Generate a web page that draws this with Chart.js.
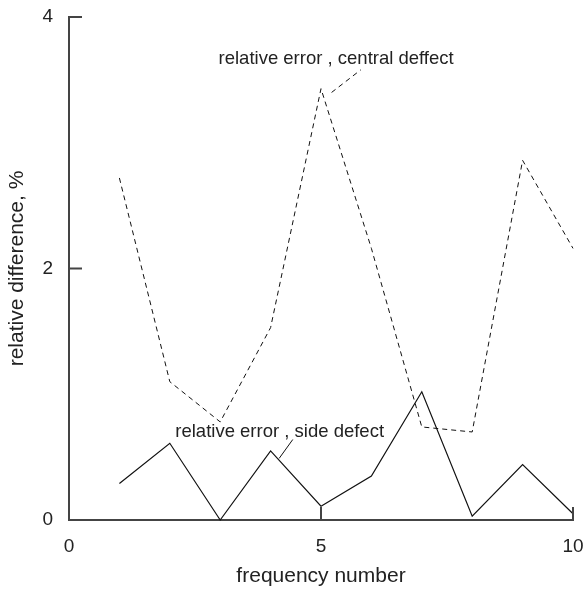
<!DOCTYPE html>
<html>
<head>
<meta charset="utf-8">
<script src="https://cdn.jsdelivr.net/npm/chart.js@4.4.1/dist/chart.umd.min.js"></script>
<style>
  html, body { margin: 0; padding: 0; background: #fff; }
  #wrap { width: 585px; height: 592px; }
</style>
</head>
<body>
<div id="wrap"><canvas id="chart" width="585" height="592"></canvas></div>
<script>
const frequency = [1, 2, 3, 4, 5, 6, 7, 8, 9, 10];
const centralDefect = [2.72, 1.10, 0.78, 1.53, 3.43, 2.16, 0.74, 0.70, 2.86, 2.16];
const sideDefect = [0.29, 0.61, 0.00, 0.55, 0.11, 0.35, 1.02, 0.03, 0.44, 0.05];

const xTicks = [0, 5, 10];
const yTicks = [0, 2, 4];

// labels with leader lines, in data units
const notes = [
  { text: 'relative error , central deffect', x: 5.3, y: 3.67, from: [5.21, 3.40], to: [5.79, 3.58], dash: [5, 4] },
  { text: 'relative error , side defect', x: 4.18, y: 0.70, from: [4.17, 0.49], to: [4.44, 0.64], dash: [] }
];

const FONT = "'Liberation Sans', Arial, sans-serif";
const ink = '#222';

const innerTicks = {
  id: 'innerTicks',
  afterDraw(chart) {
    const { ctx, scales: { x, y } } = chart;
    ctx.save();
    ctx.strokeStyle = '#444';
    ctx.lineWidth = 2;
    ctx.beginPath();
    yTicks.forEach(v => {
      const py = y.getPixelForValue(v);
      ctx.moveTo(x.left, py);
      ctx.lineTo(x.left + 13, py);
    });
    xTicks.forEach(v => {
      const px = x.getPixelForValue(v);
      ctx.moveTo(px, y.bottom);
      ctx.lineTo(px, y.bottom - 13);
    });
    ctx.stroke();

    ctx.fillStyle = ink;
    ctx.strokeStyle = '#111';
    ctx.lineWidth = 1;
    ctx.font = '18.5px ' + FONT;
    ctx.textAlign = 'center';
    ctx.textBaseline = 'middle';
    notes.forEach(n => {
      ctx.fillText(n.text, x.getPixelForValue(n.x), y.getPixelForValue(n.y));
      ctx.setLineDash(n.dash);
      ctx.beginPath();
      ctx.moveTo(x.getPixelForValue(n.from[0]), y.getPixelForValue(n.from[1]));
      ctx.lineTo(x.getPixelForValue(n.to[0]), y.getPixelForValue(n.to[1]));
      ctx.stroke();
    });
    ctx.restore();
  }
};

const ctx = document.getElementById('chart').getContext('2d');
new Chart(ctx, {
  type: 'line',
  data: {
    datasets: [
      {
        label: 'central defect',
        data: frequency.map((f, i) => ({ x: f, y: centralDefect[i] })),
        borderColor: '#111',
        borderWidth: 1,
        borderDash: [5, 4],
        pointRadius: 0,
        fill: false,
        tension: 0
      },
      {
        label: 'side defect',
        data: frequency.map((f, i) => ({ x: f, y: sideDefect[i] })),
        borderColor: '#111',
        borderWidth: 1.2,
        pointRadius: 0,
        fill: false,
        tension: 0
      }
    ]
  },
  options: {
    responsive: false,
    animation: false,
    clip: false,
    layout: { padding: 0 },
    plugins: { legend: { display: false }, tooltip: { enabled: false } },
    scales: {
      x: {
        type: 'linear',
        min: 0,
        max: 10,
        afterBuildTicks: s => { s.ticks = xTicks.map(v => ({ value: v })); },
        afterFit: s => { s.height = 72; s.paddingLeft = 0; s.paddingRight = 12; },
        grid: { display: false, drawTicks: false },
        border: { display: true, color: '#444', width: 2 },
        ticks: { color: ink, padding: 15, font: { family: FONT, size: 19 } },
        title: { display: true, text: 'frequency number', color: ink, padding: { top: 0, bottom: 3 }, font: { family: FONT, size: 21 } }
      },
      y: {
        min: 0,
        max: 4,
        afterBuildTicks: s => { s.ticks = yTicks.map(v => ({ value: v })); },
        afterFit: s => { s.width = 69; s.paddingTop = 17; s.paddingBottom = 0; },
        grid: { display: false, drawTicks: false },
        border: { display: true, color: '#444', width: 2 },
        ticks: { color: ink, padding: 16, font: { family: FONT, size: 19 } },
        title: { display: true, text: 'relative difference, %', color: ink, padding: { top: 5, bottom: 0 }, font: { family: FONT, size: 21 } }
      }
    }
  },
  plugins: [innerTicks]
});
</script>
</body>
</html>
